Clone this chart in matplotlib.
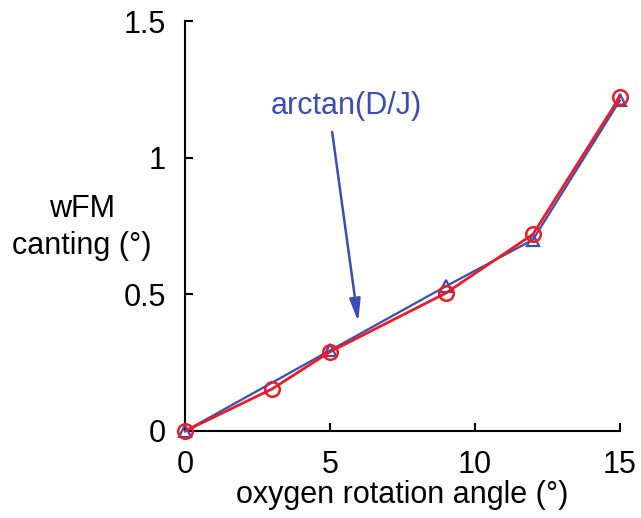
import matplotlib.pyplot as plt

plt.rcParams['font.family'] = ['Liberation Sans', 'DejaVu Sans']

# Data
x_blue = [0, 5, 9, 12, 15]
y_blue = [0.0, 0.295, 0.53, 0.70, 1.21]
x_red = [0, 3, 5, 9, 12, 15]
y_red = [0.0, 0.154, 0.29, 0.505, 0.72, 1.223]

x_ticks = [0, 5, 10, 15]
y_ticks = [0, 0.5, 1, 1.5]
y_tick_labels = ["0", "0.5", "1", "1.5"]

blue = "#3a4db3"
red = "#ec1c24"
fs = 22

fig = plt.figure(figsize=(6.41, 5.18), dpi=100)
ax = fig.add_axes([0.289, 0.168, 0.678, 0.791])

ax.plot(x_blue, y_blue, color=blue, lw=1.6, marker="^", ms=9,
        mfc="none", mec=blue, mew=1.6, clip_on=False, zorder=3)
ax.plot(x_red, y_red, color=red, lw=2.0, marker="o", ms=10.5,
        mfc="none", mec=red, mew=1.8, clip_on=False, zorder=4)

# arrow + label
ax.annotate("", xy=(5.97, 0.40), xytext=(5.07, 1.095),
            arrowprops=dict(arrowstyle="-|>,head_length=0.9,head_width=0.22",
                            color=blue, lw=1.8, mutation_scale=15,
                            shrinkA=0, shrinkB=0))
ax.text(5.55, 1.19, "arctan(D/J)", color=blue, fontsize=fs,
        ha="center", va="center")

ax.set_xlim(0, 15)
ax.set_ylim(0, 1.5)
ax.set_xticks(x_ticks)
ax.set_yticks(y_ticks)
ax.set_yticklabels(y_tick_labels)

for s in ["top", "right"]:
    ax.spines[s].set_visible(False)
for s in ["left", "bottom"]:
    ax.spines[s].set_linewidth(1.5)

ax.tick_params(direction="in", length=6, width=1.5, labelsize=fs)
ax.tick_params(axis="x", pad=14)
ax.tick_params(axis="y", pad=14)

ax.set_xlabel("oxygen rotation angle (°)", fontsize=fs, labelpad=0)
fig.text(0.128, 0.56, "wFM\ncanting (°)", fontsize=fs, ha="center",
         va="center", linespacing=1.3)

fig.savefig("out.png", dpi=100)
